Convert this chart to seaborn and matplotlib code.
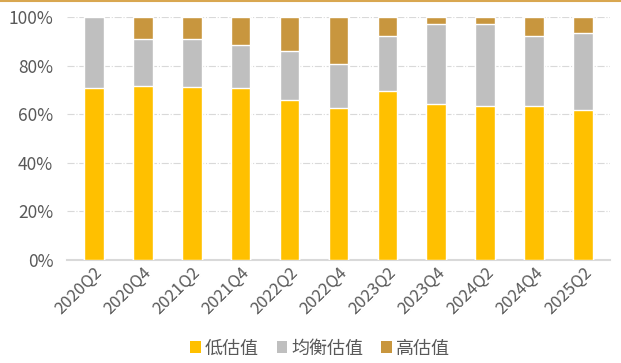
import pandas as pd
import matplotlib
matplotlib.use("Agg")
import matplotlib.pyplot as plt
import seaborn as sns
from matplotlib.patches import Patch
from matplotlib.lines import Line2D
from matplotlib.ticker import FuncFormatter

quarters = ["2020Q2", "2020Q4", "2021Q2", "2021Q4", "2022Q2", "2022Q4",
            "2023Q2", "2023Q4", "2024Q2", "2024Q4", "2025Q2"]
low = [70.8, 71.7, 71.3, 70.8, 65.8, 62.5, 69.7, 64.1, 63.2, 63.2, 61.7]
balanced = [29.2, 19.1, 19.5, 17.8, 20.2, 18.1, 22.7, 33.1, 34.0, 29.2, 31.8]
high = [0.0, 9.2, 9.2, 11.4, 14.0, 19.4, 7.6, 2.8, 2.8, 7.6, 6.5]
series_names = ["低估值", "均衡估值", "高估值"]
colors = ["#FFC000", "#BFBFBF", "#C8963E"]

df = pd.DataFrame({"quarter": quarters, "low": low, "balanced": balanced, "high": high})
df["c1"] = df["low"]
df["c2"] = df["low"] + df["balanced"]
df["c3"] = df["c2"] + df["high"]

sns.set_style("white")
plt.rcParams["font.family"] = ["Noto Sans CJK SC", "DejaVu Sans"]

fig, ax = plt.subplots(figsize=(6.21, 3.63), dpi=100)
fig.subplots_adjust(left=0.108, right=0.982, top=0.953, bottom=0.284)

# stacked bars drawn back to front
for col, c in zip(["c3", "c2", "c1"], colors[::-1]):
    sns.barplot(data=df, x="quarter", y=col, color=c, width=0.4,
                saturation=1, ax=ax, zorder=3)

ax.set_ylim(0, 100)
ax.set_yticks([0, 20, 40, 60, 80, 100])
ax.yaxis.set_major_formatter(FuncFormatter(lambda v, p: f"{v:.0f}%"))
ax.set_xlim(-0.55, len(quarters) - 0.45)
ax.set_xlabel("")
ax.set_ylabel("")
ax.grid(axis="y", color="#D9D9D9", linestyle="-.", linewidth=0.8, zorder=0)
for s in ["top", "right", "left"]:
    ax.spines[s].set_visible(False)
ax.spines["bottom"].set_color("#D9D9D9")
ax.spines["bottom"].set_linewidth(1.5)
ax.tick_params(axis="y", colors="#595959", labelsize=12.5, length=0, pad=10)
ax.tick_params(axis="x", colors="#595959", labelsize=12, length=0, pad=3)
plt.setp(ax.get_xticklabels(), rotation=45, ha="right", rotation_mode="anchor")

handles = [Patch(facecolor=c, edgecolor="none", label=n) for n, c in zip(series_names, colors)]
fig.legend(handles=handles, loc="center", bbox_to_anchor=(0.515, 0.04), ncol=3,
           frameon=False, fontsize=13, handlelength=0.6, handleheight=0.6,
           handletextpad=0.2, columnspacing=1.0, labelcolor="#595959")

# thin gold line at the very top of the picture
fig.add_artist(Line2D([0, 1], [0.997, 0.997], transform=fig.transFigure,
                      color="#D9A750", linewidth=1.5))

fig.savefig("out.png", dpi=100)
